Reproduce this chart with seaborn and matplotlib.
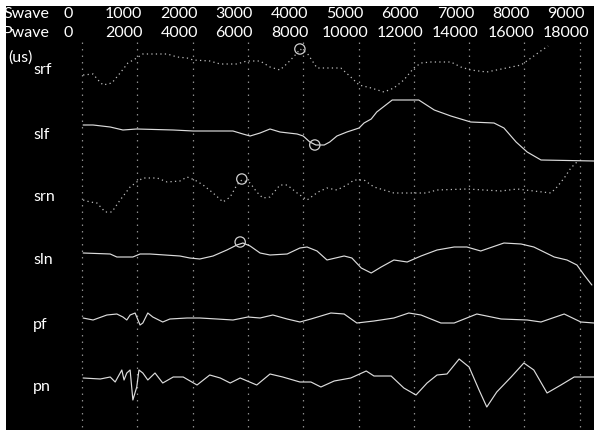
import matplotlib
matplotlib.use("Agg")
import matplotlib.pyplot as plt
import seaborn as sns
import pandas as pd

# Time axis in S-wave units (P-wave scale is twice that)
swave_ticks = [0, 1000, 2000, 3000, 4000, 5000, 6000, 7000, 8000, 9000]
pwave_ticks = [0, 2000, 4000, 6000, 8000, 10000, 12000, 14000, 16000, 18000]

channels = ["srf", "slf", "srn", "sln", "pf", "pn"]
# vertical track position of each channel (downward)
track_pos = {"srf": 75, "slf": 125, "srn": 200, "sln": 253, "pf": 318, "pn": 378}
label_pos = {"srf": 70, "slf": 135, "srn": 197, "sln": 260, "pf": 325, "pn": 387}
dotted = {"srf", "srn"}

srf_t = [20, 200, 290, 380, 540, 690, 830, 990, 1100, 1540, 1720, 1900, 2010, 2310, 2500,
         2800, 2980, 3220, 3400, 3580, 3720, 3890, 3940, 4070, 4250, 4430, 4680, 4860, 5010,
         5230, 5460, 5640, 5820, 6000, 6130, 6310, 6670, 6850, 7030, 7320, 7940, 8170, 8320, 8430]
srf_a = [0, 1, -5, -10, -8, 2, 12, 17, 21, 21, 18, 17, 15, 14, 11,
         11, 14, 14, 8, 5, 12, 22, 26, 22, 7, 7, 7, -2, -10,
         -13, -17, -13, -5, 7, 12, 13, 13, 8, 5, 3, 10, 19, 25, 29]

slf_t = [20, 200, 510, 740, 990, 1650, 2010, 2730, 2910, 3040, 3220, 3400, 3580, 3890, 4000,
         4120, 4230, 4380, 4480, 4610, 4790, 5010, 5100, 5230, 5330, 5610, 6090, 6370, 6670,
         7030, 7450, 7630, 7850, 8050, 8300, 9260]
slf_a = [0, 0, -2, -5, -4, -5, -6, -6, -9, -11, -8, -4, -7, -9, -11,
         -17, -20, -20, -17, -11, -7, -3, 2, 6, 13, 25, 25, 15, 9,
         3, 2, -3, -17, -27, -35, -36]

srn_t = [20, 150, 270, 420, 540, 690, 870, 990, 1100, 1360, 1540, 1770, 1900, 2040, 2190,
         2370, 2550, 2680, 2800, 2890, 3040, 3160, 3270, 3400, 3580, 3710, 3890, 4070, 4270,
         4430, 4610, 4790, 4920, 5100, 5280, 5640, 6000, 6220, 6420, 6960, 7580, 7870, 8170,
         8480, 8590, 8720, 8840, 8950]
srn_a = [0, -2, -3, -12, -12, 0, 13, 18, 22, 22, 18, 19, 23, 20, 15,
         7, -2, 3, 15, 20, 17, 8, 2, 3, 15, 15, 7, 0, 8,
         12, 10, 15, 20, 20, 13, 7, 7, 7, 10, 11, 9, 11, 9,
         7, 13, 22, 32, 38]

sln_t = [20, 510, 630, 920, 1050, 1230, 1770, 1950, 2130, 2370, 2620, 2800, 2910, 3040, 3220,
         3400, 3710, 3940, 4070, 4250, 4430, 4740, 4880, 5050, 5230, 5410, 5640, 5880, 6130,
         6420, 6730, 6960, 7210, 7630, 7940, 8170, 8540, 8770, 8950, 9080, 9220]
sln_a = [0, -1, -4, -4, -1, -1, -3, -5, -6, -3, 3, 8, 10, 7, 0,
         -2, -1, 5, 6, 2, -7, -3, -5, -15, -20, -14, -7, -9, -3,
         3, 6, 6, 2, 10, 9, 6, -4, -7, -12, -22, -32]

pf_t = [20, 200, 450, 630, 740, 810, 870, 960, 1050, 1100, 1190, 1280, 1460, 1590, 1900,
        2130, 2440, 2730, 3000, 3220, 3450, 3710, 3940, 4140, 4500, 4740, 4970, 5280, 5640,
        5910, 6130, 6490, 6730, 7140, 7580, 8050, 8300, 8720, 9020, 9260]
pf_a = [0, -2, 3, 4, 1, -2, 3, 5, -7, -5, 5, 1, -4, -1, 0,
        0, -1, -2, 1, 0, 3, -1, -4, -1, 5, 4, -5, -3, 0,
        5, 3, -5, -5, 4, -1, -2, -4, 4, -4, -5]

pn_t = [20, 330, 510, 600, 650, 720, 760, 810, 870, 920, 990, 1030, 1100, 1190, 1320,
        1460, 1650, 1830, 2080, 2310, 2500, 2680, 2860, 3160, 3400, 3630, 3940, 4140, 4320,
        4560, 4860, 5140, 5280, 5590, 5820, 6040, 6240, 6420, 6600, 6820, 7000, 7180, 7320,
        7500, 7760, 7990, 8170, 8410, 8660, 8900, 9260]
pn_a = [0, -1, 1, -4, 1, 8, -2, 5, 8, -22, -9, 8, 5, -2, 5,
        -5, 1, 1, -7, 3, 0, -5, 0, -7, 4, 1, -4, -4, -9,
        -3, 0, 7, 2, 2, -10, -17, -5, 3, 4, 19, 11, -12, -29,
        -14, 1, 15, 8, -15, -7, 1, 1]

# picked arrival markers: channel, time, amplitude
pick_ch = ["srf", "slf", "srn", "sln"]
pick_t = [3940, 4210, 2890, 2860]
pick_a = [26, -20, 21, 11]

series = {
    "srf": (srf_t, srf_a), "slf": (slf_t, slf_a), "srn": (srn_t, srn_a),
    "sln": (sln_t, sln_a), "pf": (pf_t, pf_a), "pn": (pn_t, pn_a),
}

frames = []
for ch in channels:
    t, a = series[ch]
    frames.append(pd.DataFrame({"channel": ch, "t": t, "amp": a}))
df = pd.concat(frames, ignore_index=True)
df["y"] = df["channel"].map(track_pos) - df["amp"]

picks = pd.DataFrame({"channel": pick_ch, "t": pick_t, "amp": pick_a})
picks["y"] = picks["channel"].map(track_pos) - picks["amp"]

sns.set_style("dark")
plt.rcParams["font.family"] = ["Lato", "DejaVu Sans"]

W, H = 594, 430
fig = plt.figure(figsize=(W / 100, H / 100), dpi=100, facecolor="white")
left_px, top_px = 6, 6
ax = fig.add_axes([left_px / W, 0, (W - left_px) / W, (H - top_px) / H])
ax.set_facecolor("black")

px_per_unit = 55.3 / 1000.0
x0_px = 82
x_left = lambda px: (px - x0_px) / px_per_unit
ax.add_patch(plt.Rectangle((0, 0), 1, 1, transform=ax.transAxes,
                           facecolor="black", edgecolor="none", zorder=0))

# dotted time grid
for t in swave_ticks:
    ax.plot([t, t], [42, H], color="#8c8c8c", lw=0.9,
            linestyle=(0, (1.2, 4.0)), zorder=1)

# traces
for ch in channels:
    sub = df[df["channel"] == ch]
    if ch in dotted:
        sns.lineplot(data=sub, x="t", y="y", sort=False, estimator=None, ax=ax,
                     color="#bdbdbd", lw=0.9, linestyle=(0, (1.0, 2.6)), zorder=3)
    else:
        sns.lineplot(data=sub, x="t", y="y", sort=False, estimator=None, ax=ax,
                     color="#dcdcdc", lw=0.85, zorder=3)

sns.scatterplot(data=picks, x="t", y="y", ax=ax, s=55, facecolor="none",
                edgecolor="#d0d0d0", linewidth=0.9, zorder=4)

ax.set_xlim(x_left(left_px), x_left(W))
ax.set_ylim(H, top_px)
ax.axis("off")

fs = 11.5
txt = dict(color="white", fontsize=fs, fontweight="normal", va="center", clip_on=False)
label_shift = -245
for t in swave_ticks:
    ax.text(t + label_shift, 14, f"{t}", ha="center", **txt)
for t, p in zip(swave_ticks, pwave_ticks):
    ax.text(t + label_shift, 33, f"{p}", ha="center", **txt)
ax.text(x_left(3), 14, "Swave", ha="left", **txt)
ax.text(x_left(3), 33, "Pwave", ha="left", **txt)
ax.text(x_left(8), 58, "(us)", ha="left", **txt)
for ch in channels:
    ax.text(x_left(33), label_pos[ch], ch, ha="left", **txt)

fig.savefig("out.png", dpi=100, facecolor="white")
